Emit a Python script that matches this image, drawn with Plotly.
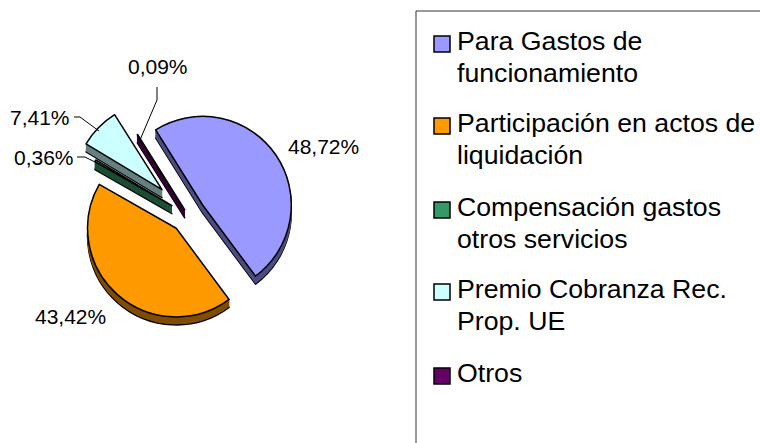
import plotly.graph_objects as go

W, H = 760, 443
legend_lines = [["Para Gastos de", "funcionamiento"],
                ["Participación en actos de", "liquidación"],
                ["Compensación gastos", "otros servicios"],
                ["Premio Cobranza Rec.", "Prop. UE"],
                ["Otros"]]
categories = [" ".join(l) for l in legend_lines]
values = [48.72, 43.42, 0.36, 7.41, 0.09]
colors = ["#9999FF", "#FF9900", "#339966", "#CCFFFF", "#660066"]
dark = ["#4D4D80", "#804D00", "#1A4D33", "#668080", "#330033"]
pulls = [0.20, 0.20, 0.21, 0.41, 0.07]

FONT = "Liberation Sans, Arial, sans-serif"
px = lambda x: x / W
py = lambda y: 1 - y / H
cx, cy, half = 188, 215, 125
depth = 8


def pie(dy, cols, line_cols, lw):
    return go.Pie(labels=categories, values=values, sort=False, direction="clockwise",
                  rotation=328, pull=pulls, textinfo="none", showlegend=False,
                  hoverinfo="label+percent",
                  marker=dict(colors=cols, line=dict(color=line_cols, width=lw)),
                  domain=dict(x=[px(cx - half), px(cx + half)],
                              y=[py(cy + dy + half), py(cy + dy - half)]))


# side wall: dark copies stepped downward, black-edged at the bottom, top face last
traces = [pie(depth, dark, "#000000", 1.5)]
traces += [pie(d, dark, dark, 1) for d in range(depth - 1, 0, -1)]
traces += [pie(0, colors, "#000000", 1.5)]
fig = go.Figure(traces)

shapes, annotations = [], []


def text(x, y, s, size, anchor):
    annotations.append(dict(x=px(x), y=py(y), xref="paper", yref="paper", text=s, showarrow=False,
                            xanchor=anchor, yanchor="middle", align="left",
                            font=dict(family=FONT, size=size, color="#000000")))


def fmt(v):
    return f"{v:.2f}%".replace(".", ",")


label_pos = [(323, 147), (70, 316), (44, 157), (40, 117), (158, 66)]
for v, (x, y) in zip(values, label_pos):
    text(x, y, fmt(v), 21, "center")

leaders = [[(77, 157), (85, 157), (97, 163)],
           [(74, 117), (80, 117), (99, 131)],
           [(157, 87), (157, 100), (140, 140)]]
for pts in leaders:
    path = "M" + " L".join(f"{px(a):.5f},{py(b):.5f}" for a, b in pts)
    shapes.append(dict(type="path", path=path, xref="paper", yref="paper",
                       line=dict(color="#000000", width=1)))

# legend frame: only top and left edges are inside the picture
shapes.append(dict(type="path", xref="paper", yref="paper",
                   path=f"M{px(416)},{py(443)} L{px(416)},{py(11)} L{px(760)},{py(11)}",
                   line=dict(color="#333333", width=1)))

legend_tops = [35, 117, 201, 283, 367]
for top, lines, col in zip(legend_tops, legend_lines, colors):
    shapes.append(dict(type="rect", xref="paper", yref="paper",
                       x0=px(434), x1=px(450), y0=py(top + 17), y1=py(top + 1),
                       fillcolor=col, line=dict(color="#000000", width=1.5)))
    for i, line in enumerate(lines):
        text(455, top + 6 + 32 * i, line, 26.7, "left")

fig.update_layout(width=W, height=H, margin=dict(l=0, r=0, t=0, b=0),
                  paper_bgcolor="#FFFFFF", shapes=shapes, annotations=annotations,
                  showlegend=False)
fig.write_html("out.html", config=dict(displayModeBar=False),
               post_script="document.body.style.margin='0';document.documentElement.style.overflow='hidden';")
